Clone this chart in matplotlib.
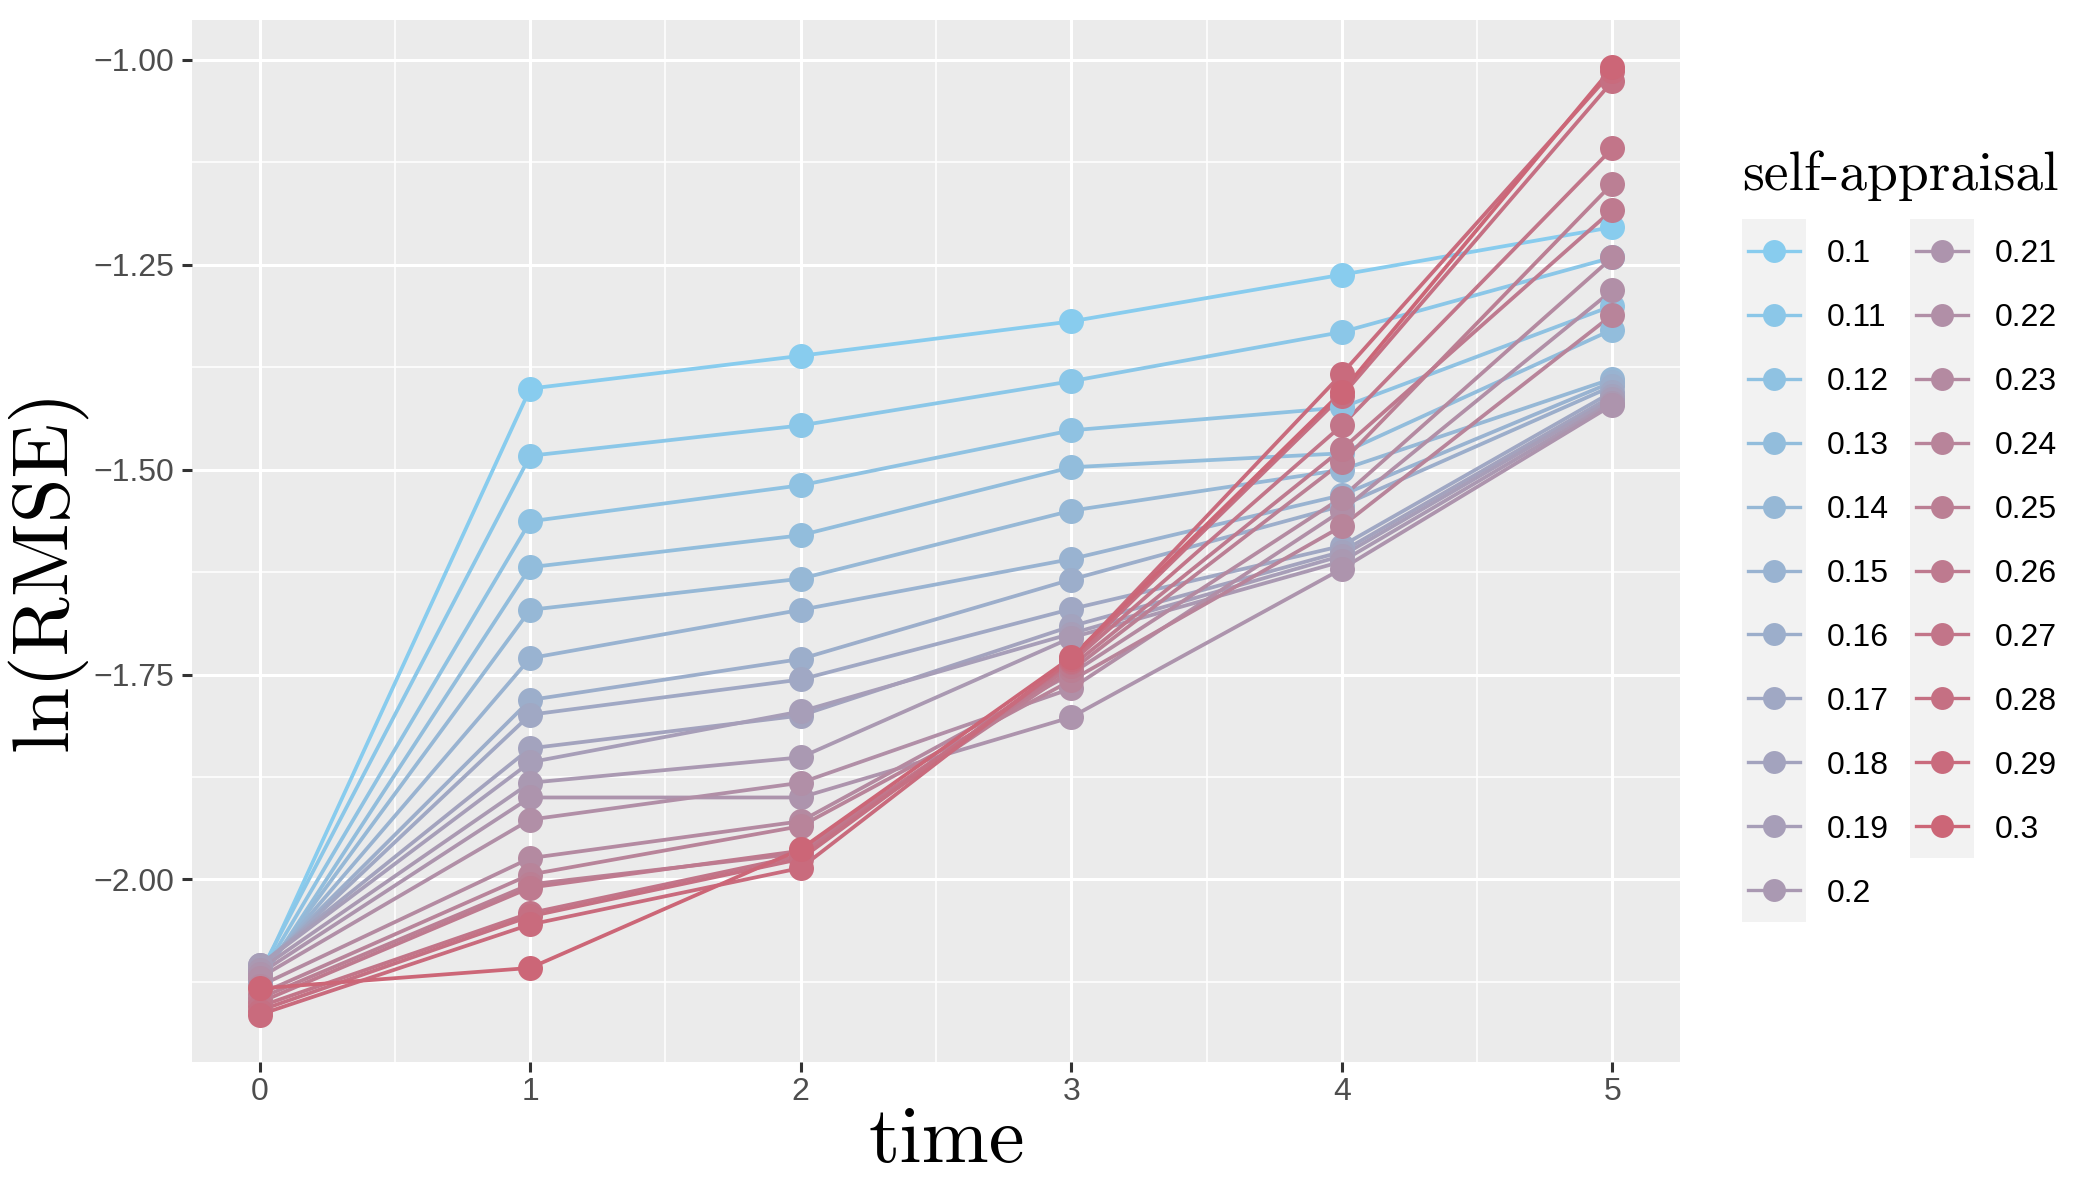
import numpy as np
import matplotlib
matplotlib.use("Agg")
import matplotlib.pyplot as plt
from matplotlib.colors import LinearSegmentedColormap
from matplotlib.ticker import MultipleLocator
from matplotlib.patches import Rectangle

plt.rcParams['font.family'] = ['Liberation Sans', 'DejaVu Sans']
serif = ['cmr10', 'DejaVu Serif']

# data
time = [0, 1, 2, 3, 4, 5]
appraisal = ['0.1', '0.11', '0.12', '0.13', '0.14', '0.15', '0.16', '0.17', '0.18', '0.19', '0.2',
             '0.21', '0.22', '0.23', '0.24', '0.25', '0.26', '0.27', '0.28', '0.29', '0.3']

# ln(RMSE) per time step, one value per self-appraisal level (same order as above)
rmse_t0 = [-2.120, -2.115, -2.120, -2.125, -2.120, -2.115, -2.110, -2.110, -2.105, -2.105, -2.110,
           -2.115, -2.120, -2.130, -2.140, -2.145, -2.150, -2.155, -2.160, -2.165, -2.133]
rmse_t1 = [-1.401, -1.483, -1.563, -1.619, -1.671, -1.730, -1.781, -1.799, -1.840, -1.857, -1.882,
           -1.900, -1.927, -1.974, -1.994, -2.006, -2.010, -2.041, -2.045, -2.055, -2.108]
rmse_t2 = [-1.361, -1.446, -1.519, -1.580, -1.633, -1.671, -1.731, -1.756, -1.800, -1.795, -1.851,
           -1.900, -1.882, -1.929, -1.935, -1.968, -1.965, -1.971, -1.975, -1.986, -1.963]
rmse_t3 = [-1.319, -1.392, -1.452, -1.497, -1.550, -1.609, -1.634, -1.670, -1.691, -1.700, -1.705,
           -1.802, -1.767, -1.749, -1.757, -1.745, -1.740, -1.735, -1.733, -1.731, -1.729]
rmse_t4 = [-1.262, -1.332, -1.424, -1.480, -1.500, -1.531, -1.544, -1.593, -1.600, -1.605, -1.612,
           -1.621, -1.550, -1.534, -1.569, -1.491, -1.475, -1.446, -1.410, -1.383, -1.405]
rmse_t5 = [-1.204, -1.241, -1.300, -1.329, -1.389, -1.393, -1.398, -1.405, -1.410, -1.414, -1.418,
           -1.421, -1.281, -1.241, -1.311, -1.151, -1.183, -1.108, -1.026, -1.014, -1.009]

y_ticks = [-1.00, -1.25, -1.50, -1.75, -2.00]

rmse = np.array([rmse_t0, rmse_t1, rmse_t2, rmse_t3, rmse_t4, rmse_t5])

cmap = LinearSegmentedColormap.from_list('appr', ['#88CCEE', '#CC6677'])
vals = np.array([float(a) for a in appraisal])
colors = [cmap((v - vals.min()) / (vals.max() - vals.min())) for v in vals]

W, H = 2100, 1181
fig = plt.figure(figsize=(W / 100, H / 100), dpi=100)
ax = fig.add_axes([192 / W, 1 - 1062 / H, (1680 - 192) / W, (1062 - 20) / H])
ax.set_facecolor('#EBEBEB')
for s in ax.spines.values():
    s.set_visible(False)

for i in range(len(appraisal)):
    ax.plot(time, rmse[:, i], color=colors[i], lw=2.7, zorder=2)
for i in range(len(appraisal)):
    ax.plot(time, rmse[:, i], 'o', ms=18, color=colors[i], mec='none', zorder=3)

# ggplot-style 5% expansion
lo, hi = rmse.min(), rmse.max()
span = hi - lo
ax.set_ylim(lo - 0.05 * span, hi + 0.05 * span)
ax.set_xlim(-0.25, 5.25)

ax.set_xticks(time)
ax.set_xticklabels([str(t) for t in time])
ax.set_yticks(y_ticks)
ax.set_yticklabels([f'{v:.2f}'.replace('-', '\u2212') for v in y_ticks])
ax.xaxis.set_minor_locator(MultipleLocator(0.5))
ax.yaxis.set_minor_locator(MultipleLocator(0.125))
ax.grid(which='major', color='white', lw=2.2)
ax.grid(which='minor', color='white', lw=1.1)
ax.set_axisbelow(True)
ax.tick_params(which='major', length=7, width=2.2, color='#333333',
               labelsize=23, labelcolor='#4D4D4D')
ax.tick_params(axis='y', pad=6)
ax.tick_params(axis='x', pad=4)
ax.tick_params(which='minor', length=0)

fig.text(46 / W, 1 - 570 / H, 'ln(RMSE)', rotation=90, ha='center', va='center',
         fontsize=58, family=serif)
fig.text(947 / W, 1 - 1162 / H, 'time', ha='center', va='baseline',
         fontsize=58, family=serif)

# legend drawn in pixel coordinates
lax = fig.add_axes([0, 0, 1, 1])
lax.set_xlim(0, W)
lax.set_ylim(H, 0)
lax.axis('off')
lax.patch.set_alpha(0)

lax.text(1742, 190, 'self-appraisal', fontsize=40, family=serif, ha='left', va='baseline')
row0, row_h = 251, 63.9
col_left = [1742, 1910]
key_w = 64
per_col = 11
for c in range(2):
    n = min(per_col, len(appraisal) - c * per_col)
    lax.add_patch(Rectangle((col_left[c], row0 - row_h / 2), key_w, n * row_h,
                            facecolor='#F2F2F2', edgecolor='none'))
for i, lab in enumerate(appraisal):
    c, r = divmod(i, per_col)
    y = row0 + r * row_h
    x0 = col_left[c]
    lax.plot([x0 + 6, x0 + key_w - 6], [y, y], color=colors[i], lw=2.4)
    lax.plot([x0 + key_w / 2], [y], 'o', ms=16.5, color=colors[i], mec='none')
    lax.text(x0 + key_w + 21, y, lab, fontsize=23, ha='left', va='center_baseline')

fig.savefig('out.png', dpi=100)
